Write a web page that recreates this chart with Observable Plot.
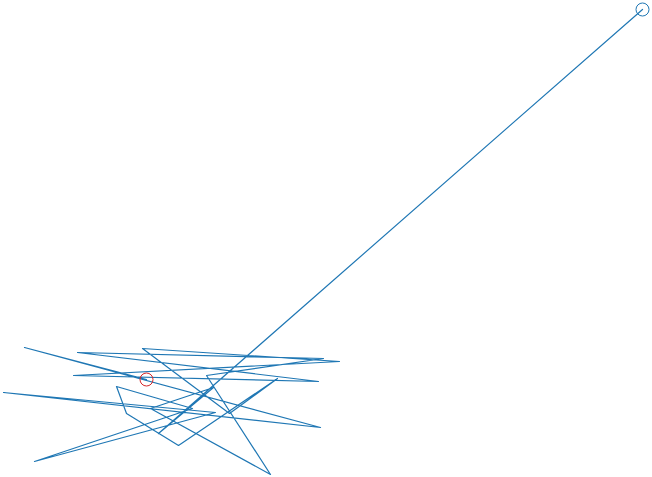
<!DOCTYPE html>
<html>
<head>
<meta charset="utf-8">
<script src="https://cdn.jsdelivr.net/npm/d3@7"></script>
<script src="https://cdn.jsdelivr.net/npm/@observablehq/plot@0.6"></script>
<style>
  html, body { margin: 0; padding: 0; background: #fff; }
  #chart svg { display: block; }
</style>
</head>
<body>
<div id="chart"></div>
<script>
// Path of the walk (x, y in plot units; y measured upward)
const xs = [146, 24, 320, 3, 215, 34, 192, 116, 126, 178, 277, 229, 142, 339, 73, 318, 77, 323, 206, 270, 150, 213, 158, 642];
const ys = [98, 130, 50, 85, 65, 16, 69, 91, 64, 32, 99, 64, 129, 116, 102, 96, 125, 119, 102, 3, 69, 90, 44, 468];

const steps = xs.map((x, i) => ({step: i, x, y: ys[i]}));
const startPt = [steps[0]];
const endPt = [steps[steps.length - 1]];

const chart = Plot.plot({
  width: 652,
  height: 477,
  margin: 0,
  x: {domain: [0, 652], axis: null},
  y: {domain: [0, 477], axis: null},
  marks: [
    Plot.line(steps, {x: "x", y: "y", stroke: "#1f77b4", strokeWidth: 1.2, curve: "linear"}),
    Plot.dot(startPt, {x: "x", y: "y", r: 6.5, stroke: "#d62728", fill: "none", strokeWidth: 1}),
    Plot.dot(endPt, {x: "x", y: "y", r: 6.5, stroke: "#1f77b4", fill: "none", strokeWidth: 1})
  ]
});
document.getElementById("chart").appendChild(chart);
</script>
</body>
</html>
